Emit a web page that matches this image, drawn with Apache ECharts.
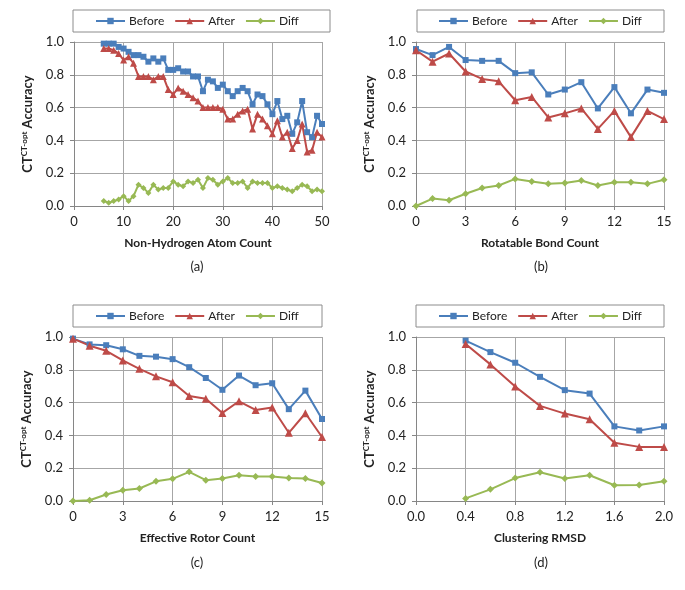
<!DOCTYPE html>
<html>
<head>
<meta charset="utf-8">
<script src="https://cdn.jsdelivr.net/npm/echarts@6/dist/echarts.min.js"></script>
<style>
html,body{margin:0;padding:0;background:#fff;}
#chart{width:685px;height:590px;}
</style>
</head>
<body>
<div id="chart"></div>
<script>
// ---- Data ----
const seriesNames = ['Before', 'After', 'Diff'];

// (a) Non-Hydrogen Atom Count
const atomCount = [6,7,8,9,10,11,12,13,14,15,16,17,18,19,20,21,22,23,24,25,26,27,28,29,30,31,32,33,34,35,36,37,38,39,40,41,42,43,44,45,46,47,48,49,50];
const atomBefore = [0.99,0.99,0.99,0.97,0.96,0.94,0.92,0.92,0.91,0.88,0.90,0.88,0.90,0.83,0.83,0.84,0.82,0.82,0.79,0.79,0.70,0.77,0.76,0.72,0.74,0.70,0.67,0.70,0.72,0.70,0.62,0.68,0.67,0.62,0.56,0.64,0.53,0.55,0.44,0.51,0.64,0.45,0.42,0.55,0.50];
const atomAfter = [0.96,0.96,0.95,0.93,0.89,0.91,0.87,0.79,0.79,0.79,0.77,0.79,0.79,0.71,0.68,0.72,0.70,0.68,0.66,0.64,0.60,0.60,0.60,0.60,0.59,0.53,0.53,0.56,0.58,0.59,0.47,0.56,0.53,0.49,0.44,0.52,0.42,0.45,0.35,0.40,0.50,0.33,0.34,0.45,0.42];
const atomDiff = [0.03,0.02,0.03,0.04,0.06,0.03,0.06,0.13,0.11,0.08,0.13,0.10,0.11,0.11,0.15,0.13,0.12,0.15,0.14,0.16,0.11,0.17,0.16,0.13,0.15,0.17,0.14,0.14,0.15,0.11,0.15,0.14,0.14,0.14,0.11,0.12,0.11,0.10,0.09,0.11,0.13,0.12,0.09,0.10,0.09];

// (b) Rotatable Bond Count
const bondCount = [0,1,2,3,4,5,6,7,8,9,10,11,12,13,14,15];
const bondBefore = [0.957,0.92,0.97,0.89,0.885,0.885,0.81,0.815,0.68,0.71,0.755,0.595,0.725,0.565,0.71,0.69];
const bondAfter = [0.95,0.88,0.93,0.82,0.775,0.76,0.645,0.665,0.54,0.565,0.595,0.47,0.58,0.42,0.58,0.53];
const bondDiff = [0.0,0.045,0.035,0.075,0.11,0.125,0.165,0.15,0.135,0.14,0.155,0.125,0.145,0.145,0.135,0.16];

// (c) Effective Rotor Count
const rotorCount = [0,1,2,3,4,5,6,7,8,9,10,11,12,13,14,15];
const rotorBefore = [0.99,0.955,0.95,0.925,0.885,0.88,0.865,0.816,0.75,0.678,0.765,0.706,0.718,0.56,0.673,0.50];
const rotorAfter = [0.99,0.947,0.916,0.857,0.806,0.76,0.724,0.64,0.624,0.537,0.608,0.555,0.57,0.416,0.535,0.39];
const rotorDiff = [0.0,0.005,0.04,0.065,0.076,0.12,0.135,0.178,0.127,0.137,0.157,0.15,0.15,0.14,0.137,0.11];

// (d) Clustering RMSD
const rmsd = [0.4,0.6,0.8,1.0,1.2,1.4,1.6,1.8,2.0];
const rmsdBefore = [0.978,0.908,0.843,0.757,0.676,0.655,0.455,0.43,0.455];
const rmsdAfter = [0.957,0.833,0.698,0.58,0.533,0.498,0.355,0.33,0.33];
const rmsdDiff = [0.016,0.071,0.14,0.175,0.137,0.157,0.096,0.098,0.12];

const xTitles = ['Non-Hydrogen Atom Count', 'Rotatable Bond Count', 'Effective Rotor Count', 'Clustering RMSD'];
const panelLabels = ['(a)', '(b)', '(c)', '(d)'];
const yTicks = ['0.0','0.2','0.4','0.6','0.8','1.0'];

// ---- Build ----
const FONT = 'Lato, "Open Sans", sans-serif';
const colors = ['#4A7EBB', '#BE4B48', '#98B954'];
const symbols = ['rect', 'triangle', 'diamond'];

const panels = [
  {x: atomCount, ys: [atomBefore, atomAfter, atomDiff], min: 0, max: 50, interval: 10, dec: 0},
  {x: bondCount, ys: [bondBefore, bondAfter, bondDiff], min: 0, max: 15, interval: 3, dec: 0},
  {x: rotorCount, ys: [rotorBefore, rotorAfter, rotorDiff], min: 0, max: 15, interval: 3, dec: 0},
  {x: rmsd, ys: [rmsdBefore, rmsdAfter, rmsdDiff], min: 0, max: 2.0, interval: 0.4, dec: 1}
];

const gridBoxes = [
  {left: 74, top: 42, width: 248, height: 164},
  {left: 416, top: 42, width: 248, height: 164},
  {left: 73, top: 337, width: 249, height: 164},
  {left: 416, top: 337, width: 248, height: 164}
];
const legendBoxes = [
  {left: 73, top: 10, width: 257, legendLeft: 95},
  {left: 417, top: 10, width: 247, legendLeft: 438},
  {left: 73, top: 305, width: 249, legendLeft: 95},
  {left: 416, top: 305, width: 248, legendLeft: 438}
];
const panelLabelPos = [[197, 267], [541, 267], [197, 563], [541, 563]];

const grids = [], xAxes = [], yAxes = [], series = [], legends = [], graphics = [];

panels.forEach((p, i) => {
  const g = gridBoxes[i];
  const lb = legendBoxes[i];
  grids.push(Object.assign({containLabel: false}, g));
  xAxes.push({
    type: 'value', gridIndex: i, min: p.min, max: p.max, interval: p.interval,
    axisLine: {show: true, lineStyle: {color: '#868686', width: 1}},
    axisTick: {show: true, length: 4, lineStyle: {color: '#868686'}},
    splitLine: {show: true, lineStyle: {color: '#a6a6a6', width: 1}},
    axisLabel: {color: '#222', fontFamily: FONT, fontSize: 13, margin: 9,
      formatter: v => Number(v).toFixed(p.dec)},
    name: xTitles[i], nameLocation: 'middle', nameGap: 31,
    nameTextStyle: {color: '#222', fontFamily: FONT, fontSize: 12, fontWeight: 'bold'}
  });
  yAxes.push({
    type: 'value', gridIndex: i, min: 0, max: 1, interval: 0.2,
    axisLine: {show: true, lineStyle: {color: '#868686', width: 1}},
    axisTick: {show: true, length: 4, lineStyle: {color: '#868686'}},
    splitLine: {show: true, lineStyle: {color: '#a6a6a6', width: 1}},
    axisLabel: {color: '#222', fontFamily: FONT, fontSize: 13, margin: 10,
      formatter: v => yTicks[Math.round(v / 0.2)]},
    name: '{a|CT}{b|CT-opt}{a| Accuracy}', nameLocation: 'middle', nameGap: 38, nameRotate: 90,
    nameTextStyle: {
      rich: {
        a: {fontFamily: FONT, fontSize: 13, fontWeight: 'bold', color: '#222', lineHeight: 16},
        b: {fontFamily: FONT, fontSize: 8, fontWeight: 'bold', color: '#222', verticalAlign: 'top', lineHeight: 16}
      }
    }
  });
  p.ys.forEach((ys, k) => {
    series.push({
      type: 'line', name: seriesNames[k], xAxisIndex: i, yAxisIndex: i,
      data: p.x.map((xv, j) => [xv, ys[j]]),
      symbol: symbols[k],
      symbolSize: i === 0 ? [6, 7, 6][k] : [6, 8, 7][k],
      showSymbol: true,
      lineStyle: {color: colors[k], width: 2},
      itemStyle: {color: colors[k]},
      emphasis: {disabled: true},
      animation: false
    });
  });
  graphics.push({
    type: 'rect', x: lb.left, y: lb.top,
    shape: {width: lb.width, height: 22},
    style: {fill: '#fff', stroke: '#8c8c8c', lineWidth: 1}, z: 0
  });
  legends.push({
    data: seriesNames, orient: 'horizontal',
    top: lb.top + 5, left: lb.legendLeft, width: 400,
    itemWidth: 29, itemHeight: 8, itemGap: 10,
    textStyle: {fontFamily: FONT, fontSize: 12, color: '#222', padding: [0, 0, 0, -1]},
    padding: 0, selectedMode: false, z: 5
  });
  graphics.push({
    type: 'text', x: panelLabelPos[i][0], y: panelLabelPos[i][1], z: 5,
    style: {text: panelLabels[i], font: '13px ' + FONT, fill: '#222', textAlign: 'center', textVerticalAlign: 'middle'}
  });
});

const chart = echarts.init(document.getElementById('chart'), null, {renderer: 'canvas'});
chart.setOption({
  backgroundColor: '#fff',
  animation: false,
  grid: grids, xAxis: xAxes, yAxis: yAxes, series: series,
  legend: legends,
  graphic: graphics
});
</script>
</body>
</html>
